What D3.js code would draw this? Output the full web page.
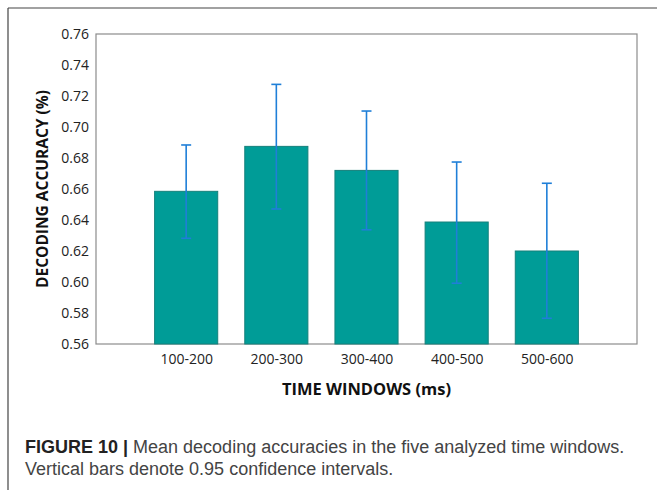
<!DOCTYPE html>
<html>
<head>
<meta charset="utf-8">
<script src="https://cdn.jsdelivr.net/npm/d3@7"></script>
<style>
  body { margin: 0; background: #fff; }
  svg { display: block; }
</style>
</head>
<body>
<svg id="chart" width="657" height="490"></svg>
<script>
var windows = ["100-200", "200-300", "300-400", "400-500", "500-600"]
var accuracy = [0.6585, 0.6875, 0.672, 0.6387, 0.620]
var ciLow = [0.6282, 0.6471, 0.6337, 0.5992, 0.5766]
var ciHigh = [0.6884, 0.7275, 0.7103, 0.6774, 0.6637]
var yTicks = [0.56, 0.58, 0.60, 0.62, 0.64, 0.66, 0.68, 0.70, 0.72, 0.74, 0.76]

var width = 657, height = 490
var margin = {top: 34, right: 20, bottom: 146, left: 96}
var plotW = 637 - margin.left, plotH = 344 - margin.top

var svg = d3.select("#chart")

// outer figure frame (cropped: only top and left visible)
svg.append("line")
    .attr("x1", 8).attr("y1", 8).attr("x2", width).attr("y2", 8)
    .attr("stroke", "#444").attr("stroke-width", 1.2)
svg.append("line")
    .attr("x1", 8).attr("y1", 8).attr("x2", 8).attr("y2", height)
    .attr("stroke", "#444").attr("stroke-width", 1.2)

var g = svg.append("g")
    .attr("transform", "translate(" + margin.left + "," + margin.top + ")")

var x = d3.scalePoint()
    .domain(windows)
    .range([0, plotW])
    .padding(1)

var y = d3.scaleLinear()
    .domain([0.56, 0.76])
    .range([plotH, 0])

var barW = x.step() * 0.7

// plot frame
g.append("rect")
    .attr("x", 0).attr("y", 0)
    .attr("width", plotW).attr("height", plotH)
    .attr("fill", "none")
    .attr("stroke", "#8c8c8c")
    .attr("stroke-width", 1.2)

var yAxis = g.append("g")
    .call(d3.axisLeft(y).tickValues(yTicks).tickFormat(d3.format(".2f")).tickSize(0).tickPadding(7))
yAxis.select(".domain").remove()
yAxis.selectAll("text")
    .attr("font-family", "Open Sans")
    .attr("font-size", 14)
    .attr("fill", "#222")

var xAxis = g.append("g")
    .attr("transform", "translate(0," + plotH + ")")
    .call(d3.axisBottom(x).tickSize(0).tickPadding(10))
xAxis.select(".domain").remove()
xAxis.selectAll("text")
    .attr("font-family", "Open Sans")
    .attr("font-size", 14)
    .attr("fill", "#222")

// bars
g.selectAll(".bar")
    .data(windows)
    .enter()
    .append("rect")
        .attr("class", "bar")
        .attr("x", d => x(d) - barW / 2)
        .attr("y", (d, i) => y(accuracy[i]))
        .attr("width", barW)
        .attr("height", (d, i) => plotH - y(accuracy[i]))
        .attr("fill", "#009c97")
        .attr("stroke", "#15807b")
        .attr("stroke-width", 1)

// confidence intervals
var err = g.selectAll(".err")
    .data(windows)
    .enter()
    .append("g")
        .attr("class", "err")
        .attr("stroke", "#1f7fd8")
        .attr("stroke-width", 1.6)
err.append("line")
    .attr("x1", d => x(d)).attr("x2", d => x(d))
    .attr("y1", (d, i) => y(ciLow[i]))
    .attr("y2", (d, i) => y(ciHigh[i]))
err.append("line")
    .attr("x1", d => x(d) - 5).attr("x2", d => x(d) + 5)
    .attr("y1", (d, i) => y(ciHigh[i]))
    .attr("y2", (d, i) => y(ciHigh[i]))
err.append("line")
    .attr("x1", d => x(d) - 5).attr("x2", d => x(d) + 5)
    .attr("y1", (d, i) => y(ciLow[i]))
    .attr("y2", (d, i) => y(ciLow[i]))

// axis titles
svg.append("text")
    .attr("transform", "translate(48," + (margin.top + plotH / 2) + ") rotate(-90)")
    .attr("text-anchor", "middle")
    .attr("font-family", "Open Sans")
    .attr("font-weight", "bold")
    .attr("font-size", 15.5)
    .attr("fill", "#111")
    .text("DECODING ACCURACY (%)")

svg.append("text")
    .attr("x", margin.left + plotW / 2)
    .attr("y", 395)
    .attr("text-anchor", "middle")
    .attr("font-family", "Open Sans")
    .attr("font-weight", "bold")
    .attr("font-size", 16.5)
    .attr("fill", "#111")
    .text("TIME WINDOWS (ms)")

// caption
var cap = svg.append("text")
    .attr("font-family", "Liberation Sans")
    .attr("font-size", 18)
    .attr("fill", "#444")
var l1 = cap.append("tspan").attr("x", 25).attr("y", 453)
l1.append("tspan").attr("font-weight", "bold").attr("fill", "#222").text("FIGURE 10 | ")
l1.append("tspan").text("Mean decoding accuracies in the five analyzed time windows.")
cap.append("tspan").attr("x", 25).attr("y", 475)
    .text("Vertical bars denote 0.95 confidence intervals.")
</script>
</body>
</html>
